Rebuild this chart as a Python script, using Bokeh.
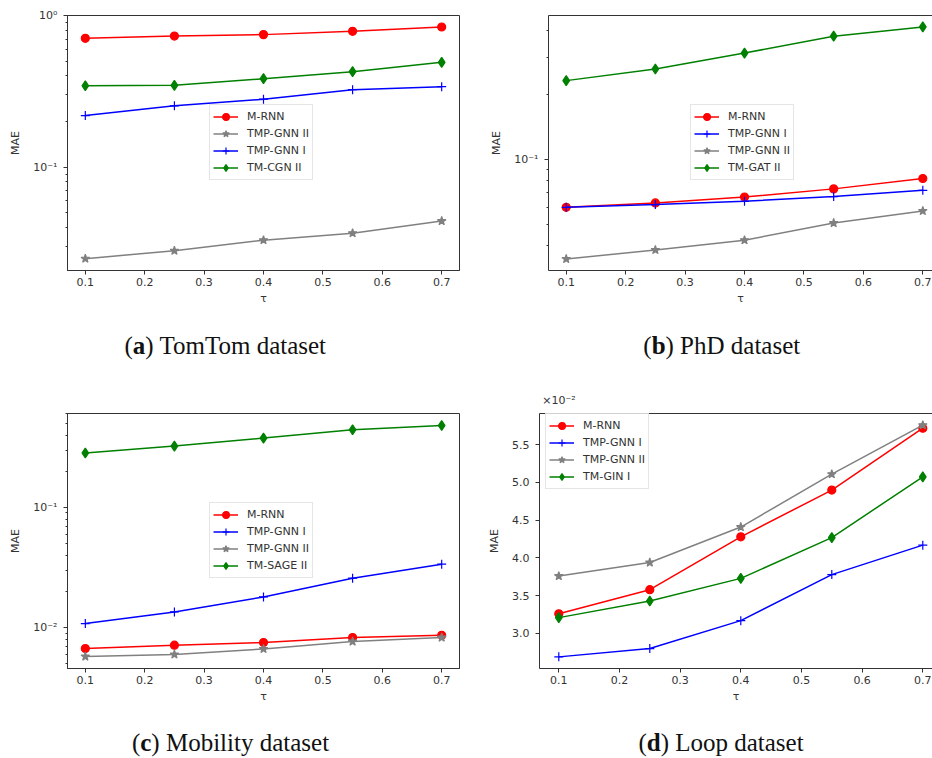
from bokeh.plotting import figure
from bokeh.layouts import row, column
from bokeh.models import (Range1d, FixedTicker, Legend, LegendItem,
                          LinearAxis, CustomJSTickFormatter)
from bokeh.core.properties import value
from bokeh.embed import file_html
from bokeh.resources import INLINE

# ---------------- data ----------------
TAU = [0.1, 0.25, 0.4, 0.55, 0.7]
X_TICKS = [0.1, 0.2, 0.3, 0.4, 0.5, 0.6, 0.7]

# (a) TomTom dataset
A_NAMES = ["M-RNN", "TMP-GNN II", "TMP-GNN I", "TM-CGN II"]
A_MRNN = [0.709, 0.734, 0.750, 0.789, 0.842]
A_TMP2 = [0.0249, 0.0281, 0.0330, 0.0367, 0.0441]
A_TMP1 = [0.219, 0.254, 0.281, 0.325, 0.340]
A_TMCGN2 = [0.345, 0.347, 0.384, 0.427, 0.492]

# (b) PhD dataset
B_NAMES = ["M-RNN", "TMP-GNN I", "TMP-GNN II", "TM-GAT II"]
B_MRNN = [0.0600, 0.0629, 0.0670, 0.0731, 0.0817]
B_TMP1 = [0.0600, 0.0618, 0.0640, 0.0673, 0.0720]
B_TMP2 = [0.0345, 0.0380, 0.0422, 0.0507, 0.0577]
B_TMGAT2 = [0.233, 0.264, 0.313, 0.375, 0.414]

# (c) Mobility dataset
C_NAMES = ["M-RNN", "TMP-GNN I", "TMP-GNN II", "TM-SAGE II"]
C_MRNN = [0.00670, 0.00714, 0.00752, 0.00827, 0.00863]
C_TMP1 = [0.0108, 0.0135, 0.0180, 0.0258, 0.0337]
C_TMP2 = [0.00575, 0.00598, 0.00665, 0.00766, 0.00827]
C_TMSAGE2 = [0.284, 0.324, 0.378, 0.443, 0.481]

# (d) Loop dataset
D_NAMES = ["M-RNN", "TMP-GNN I", "TMP-GNN II", "TM-GIN I"]
D_MRNN = [0.0326, 0.0358, 0.0428, 0.0490, 0.0572]
D_TMP1 = [0.0269, 0.0280, 0.0317, 0.0378, 0.0417]
D_TMP2 = [0.0376, 0.0394, 0.0441, 0.0511, 0.0576]
D_TMGIN1 = [0.0321, 0.0343, 0.0373, 0.0427, 0.05075]
D_TICKS = [0.030, 0.035, 0.040, 0.045, 0.050, 0.055]
D_SCALE_TEXT = "×10⁻²"

CAP_LETTERS = ["a", "b", "c", "d"]
CAP_TEXTS = ["TomTom dataset", "PhD dataset", "Mobility dataset", "Loop dataset"]

# ---------------- styles ----------------
INK = "#333333"
FONT = "DejaVu Sans"
W_LEFT, W_RIGHT = 470, 462
CAP_SIZE = 25


def style_for(name):
    if name == "M-RNN":
        return dict(color="red", marker="circle", size=8)
    if name == "TMP-GNN I":
        return dict(color="blue", marker="cross", size=9)
    if name == "TMP-GNN II":
        return dict(color="gray", marker="star", size=9)
    return dict(color="green", marker="diamond", size=10)


def log_minor(lo, hi):
    out = []
    for k in range(-4, 1):
        for m in range(2, 10):
            v = m * 10.0 ** k
            if lo <= v <= hi:
                out.append(v)
    return out


def style_axis(ax):
    ax.axis_line_color = INK
    ax.major_tick_line_color = INK
    ax.minor_tick_line_color = INK
    ax.major_tick_in = 0
    ax.major_tick_out = 4
    ax.minor_tick_in = 0
    ax.minor_tick_out = 2
    ax.major_label_text_font = FONT
    ax.major_label_text_font_size = "11px"
    ax.major_label_text_color = INK
    ax.axis_label_text_font = FONT
    ax.axis_label_text_font_size = "11px"
    ax.axis_label_text_font_style = "normal"
    ax.axis_label_text_color = INK


def make_panel(width, height, borders, xr, yr, ylog, names, series,
               legend_xy, open_right, major_y=None):
    left, right, top, bottom = borders
    p = figure(width=width, height=height, title=None,
               x_range=Range1d(*xr), y_range=Range1d(*yr),
               y_axis_type="log" if ylog else "linear",
               output_backend="svg", toolbar_location=None,
               min_border_left=left, min_border_right=right,
               min_border_top=top, min_border_bottom=bottom,
               background_fill_color="white", border_fill_color="white")
    p.xgrid.visible = False
    p.ygrid.visible = False

    xa = p.below[0]
    ya = p.left[0]
    style_axis(xa)
    style_axis(ya)

    xa.ticker = FixedTicker(ticks=X_TICKS, minor_ticks=[])
    xa.formatter = CustomJSTickFormatter(code="return tick.toFixed(1);")
    xa.major_label_standoff = 3
    xa.axis_label = "τ"
    xa.axis_label_standoff = 3

    if ylog:
        ya.ticker = FixedTicker(ticks=[0.001, 0.01, 0.1, 1.0],
                                minor_ticks=log_minor(yr[0], yr[1]))
        ya.formatter = CustomJSTickFormatter(code="""
            const e = Math.round(Math.log10(tick));
            const sup = {"0":"\u2070","1":"\u00b9","2":"\u00b2","3":"\u00b3","-":"\u207b"};
            return "10" + String(e).split("").map(c => sup[c]).join("");
        """)
    else:
        ya.ticker = FixedTicker(ticks=major_y, minor_ticks=[])
        ya.formatter = CustomJSTickFormatter(code="return (tick*100).toFixed(1);")
    ya.major_label_standoff = 6
    ya.axis_label = "MAE"
    ya.axis_label_standoff = 8

    if open_right:
        p.outline_line_color = None
        top_axis = LinearAxis(ticker=FixedTicker(ticks=[], minor_ticks=[]),
                              axis_line_color=INK, axis_line_width=1,
                              major_tick_line_color=None,
                              minor_tick_line_color=None,
                              major_tick_out=0, major_tick_in=0,
                              minor_tick_out=0, minor_tick_in=0,
                              major_label_standoff=0,
                              major_label_text_font_size="0px")
        p.add_layout(top_axis, "above")
    else:
        p.outline_line_color = INK
        p.outline_line_width = 1
        p.outline_line_alpha = 1

    items = []
    for name, vals in zip(names, series):
        st = style_for(name)
        lr = p.line(TAU, vals, line_color=st["color"], line_width=1.5)
        sr = p.scatter(TAU, vals, marker=st["marker"], size=st["size"],
                       fill_color=st["color"], line_color=st["color"],
                       line_width=1.2)
        items.append(LegendItem(label=name, renderers=[lr, sr]))

    legend = Legend(items=items, location=legend_xy,
                    label_text_font=FONT, label_text_font_size="11px",
                    label_text_color=INK, glyph_width=25, glyph_height=17,
                    label_height=17, spacing=0, padding=3, label_standoff=9,
                    border_line_color="#cccccc", border_line_width=1,
                    background_fill_color="white", background_fill_alpha=0.8,
                    margin=0)
    p.add_layout(legend)
    return p


def make_caption_strip(height, caps, mid_y, extra=None):
    """caps: list of (x0, letter, text, bold_letter_width); pixels of the strip."""
    p = figure(width=W_LEFT + W_RIGHT, height=height, title=None,
               x_range=Range1d(0, W_LEFT + W_RIGHT), y_range=Range1d(0, height),
               output_backend="svg", toolbar_location=None,
               min_border=0, outline_line_color=None,
               background_fill_color="white", border_fill_color="white")
    p.axis.visible = False
    p.grid.visible = False
    paren_w = 0.333 * CAP_SIZE
    xs_open, xs_bold, xs_rest = [], [], []
    t_bold, t_rest = [], []
    for x0, letter, text, bw in caps:
        xs_open.append(x0)
        xs_bold.append(x0 + paren_w)
        xs_rest.append(x0 + paren_w + bw * CAP_SIZE)
        t_bold.append(letter)
        t_rest.append(") " + text)
    ys = [mid_y] * len(caps)
    common = dict(text_font=value("Liberation Serif"),
                  text_font_size=value(f"{CAP_SIZE}px"),
                  text_color="#111111", text_baseline="middle", text_align="left")
    p.text(x=xs_open, y=ys, text=["("] * len(caps), text_font_style=value("normal"), **common)
    p.text(x=xs_bold, y=ys, text=t_bold, text_font_style=value("bold"), **common)
    p.text(x=xs_rest, y=ys, text=t_rest, text_font_style=value("normal"), **common)
    if extra is not None:
        ex, ey, etext = extra
        p.text(x=[ex], y=[ey], text=[etext], text_font=value(FONT),
               text_font_size=value("11px"), text_color=INK,
               text_baseline="middle", text_align="left")
    return p


pa = make_panel(W_LEFT, 318, (67, 11, 15, 48), (0.07, 0.73), (0.0208, 1.003), True,
                A_NAMES, [A_MRNN, A_TMP2, A_TMP1, A_TMCGN2], (142, 90), False)
pb = make_panel(W_RIGHT, 318, (78, 0, 15, 48), (0.0702, 0.7163), (0.0305, 0.468), True,
                B_NAMES, [B_MRNN, B_TMP1, B_TMP2, B_TMGAT2], (142, 90), True)
pc = make_panel(W_LEFT, 304, (67, 11, 5, 43), (0.07, 0.73), (0.00457, 0.605), True,
                C_NAMES, [C_MRNN, C_TMP1, C_TMP2, C_TMSAGE2], (142, 90), False)
pd = make_panel(W_RIGHT, 304, (69, 0, 1, 44), (0.0682, 0.716), (0.02536, 0.05914), False,
                D_NAMES, [D_MRNN, D_TMP1, D_TMP2, D_TMGIN1], (6, 179), True,
                major_y=D_TICKS)

cap_top = make_caption_strip(90, [(124, CAP_LETTERS[0], CAP_TEXTS[0], 0.5),
                                  (642.8, CAP_LETTERS[1], CAP_TEXTS[1], 0.556)],
                             63.4, extra=(541.7, 8, D_SCALE_TEXT))
cap_bot = make_caption_strip(46, [(131.4, CAP_LETTERS[2], CAP_TEXTS[2], 0.444),
                                  (637.9, CAP_LETTERS[3], CAP_TEXTS[3], 0.556)], 16.4)

layout = column(row(pa, pb), cap_top, row(pc, pd), cap_bot)
open("out.html", "w").write(file_html(layout, INLINE))
